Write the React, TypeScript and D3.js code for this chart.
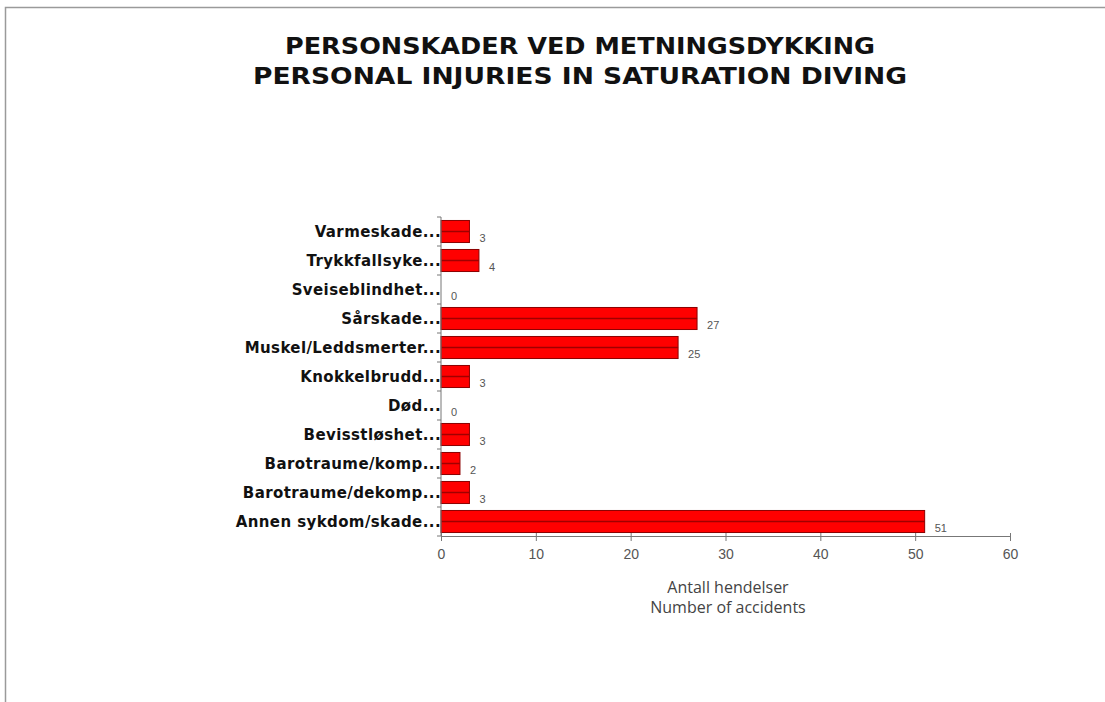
import React, { useEffect, useRef } from 'react';
import * as d3 from 'd3';

const categories = [
  'Varmeskade...',
  'Trykkfallsyke...',
  'Sveiseblindhet...',
  'Sårskade...',
  'Muskel/Leddsmerter...',
  'Knokkelbrudd...',
  'Død...',
  'Bevisstløshet...',
  'Barotraume/komp...',
  'Barotraume/dekomp...',
  'Annen sykdom/skade...',
];
const values = [3, 4, 0, 27, 25, 3, 0, 3, 2, 3, 51];
const xTicks = [0, 10, 20, 30, 40, 50, 60];
const titleLines = ['PERSONSKADER VED METNINGSDYKKING', 'PERSONAL INJURIES IN SATURATION DIVING'];
const axisTitle = ['Antall hendelser', 'Number of accidents'];

const W = 1105;
const H = 702;

const App: React.FC = () => {
  const svgRef = useRef<SVGSVGElement>(null);

  useEffect(() => {
    if (!svgRef.current) return;
    const svg = d3.select(svgRef.current);
    svg.selectAll('*').remove();

    const margin = { top: 217, left: 441, right: 95, bottom: 166 };
    const innerW = W - margin.left - margin.right;
    const innerH = H - margin.top - margin.bottom;

    // frame
    svg.append('rect').attr('width', W).attr('height', H).attr('fill', '#fff');
    svg.append('path')
      .attr('d', `M5.5,${H} L5.5,7.5 L${W},7.5`)
      .attr('fill', 'none')
      .attr('stroke', '#9a9a9a')
      .attr('stroke-width', 1.5);

    // title
    svg.append('g')
      .selectAll('text')
      .data(titleLines)
      .join('text')
      .attr('x', 580)
      .attr('y', (_, i) => 54 + i * 30)
      .attr('text-anchor', 'middle')
      .attr('font-family', 'DejaVu Sans Condensed, DejaVu Sans')
      .attr('font-weight', 'bold')
      .attr('font-size', 23)
      .attr('textLength', (_, i) => (i === 0 ? 590 : 654))
      .attr('lengthAdjust', 'spacingAndGlyphs')
      .attr('fill', '#111')
      .text(d => d);

    const g = svg.append('g').attr('transform', `translate(${margin.left},${margin.top})`);

    const x = d3.scaleLinear().domain([0, 60]).range([0, innerW]);
    const y = d3.scaleBand<string>().domain(categories).range([0, innerH]).paddingInner(0.24).paddingOuter(0.12);

    // bars
    const bars = g.append('g');
    categories.forEach((c, i) => {
      const v = values[i];
      const y0 = y(c)!;
      const bh = y.bandwidth();
      if (v > 0) {
        bars.append('rect')
          .attr('x', x(0))
          .attr('y', y0)
          .attr('width', x(v) - x(0))
          .attr('height', bh)
          .attr('fill', '#ff0000')
          .attr('stroke', '#8b0000')
          .attr('stroke-width', 1);
        bars.append('line')
          .attr('x1', x(0))
          .attr('x2', x(v))
          .attr('y1', y0 + bh / 2)
          .attr('y2', y0 + bh / 2)
          .attr('stroke', '#a00000')
          .attr('stroke-width', 1.5);
      }
      bars.append('text')
        .attr('x', x(v) + 10)
        .attr('y', y0 + bh - 1)
        .attr('font-family', 'Liberation Sans, Arial, sans-serif')
        .attr('font-size', 11)
        .attr('fill', '#555')
        .text(v);
    });

    // y axis
    const yAxis = g.append('g');
    yAxis.append('line')
      .attr('x1', 0).attr('x2', 0)
      .attr('y1', 0).attr('y2', innerH)
      .attr('stroke', '#777');
    const step = y.step();
    const off = y(categories[0])! - (step - y.bandwidth()) / 2;
    d3.range(categories.length + 1).forEach(i => {
      const yy = Math.min(innerH, Math.max(0, off + i * step));
      yAxis.append('line')
        .attr('x1', -4).attr('x2', 0)
        .attr('y1', yy).attr('y2', yy)
        .attr('stroke', '#777');
    });
    yAxis.selectAll('text.cat')
      .data(categories)
      .join('text')
      .attr('class', 'cat')
      .attr('x', 0)
      .attr('y', d => y(d)! + y.bandwidth() / 2 + 5)
      .attr('text-anchor', 'end')
      .attr('font-family', 'DejaVu Sans, Verdana, sans-serif')
      .attr('font-weight', 'bold')
      .attr('font-size', 15)
      .attr('letter-spacing', 0.4)
      .attr('fill', '#111')
      .text(d => d);

    // x axis
    const xAxis = g.append('g')
      .attr('transform', `translate(0,${innerH})`)
      .call(d3.axisBottom(x).tickValues(xTicks).tickSize(5).tickPadding(8));
    xAxis.select('.domain').attr('stroke', '#777');
    xAxis.selectAll('.tick line').attr('stroke', '#777').attr('y1', -3);
    xAxis.selectAll('.tick text')
      .attr('font-family', 'Liberation Sans, Arial, sans-serif')
      .attr('font-size', 14)
      .attr('fill', '#555');

    g.append('g')
      .selectAll('text')
      .data(axisTitle)
      .join('text')
      .attr('x', 287)
      .attr('y', (_, i) => innerH + 57 + i * 20)
      .attr('text-anchor', 'middle')
      .attr('font-family', 'Open Sans, Liberation Sans, sans-serif')
      .attr('font-size', 16)
      .attr('fill', '#444')
      .text(d => d);
  }, []);

  return (
    <svg
      ref={svgRef}
      width={W}
      height={H}
      style={{ position: 'absolute', left: 0, top: 0, display: 'block' }}
    />
  );
};

export default App;
